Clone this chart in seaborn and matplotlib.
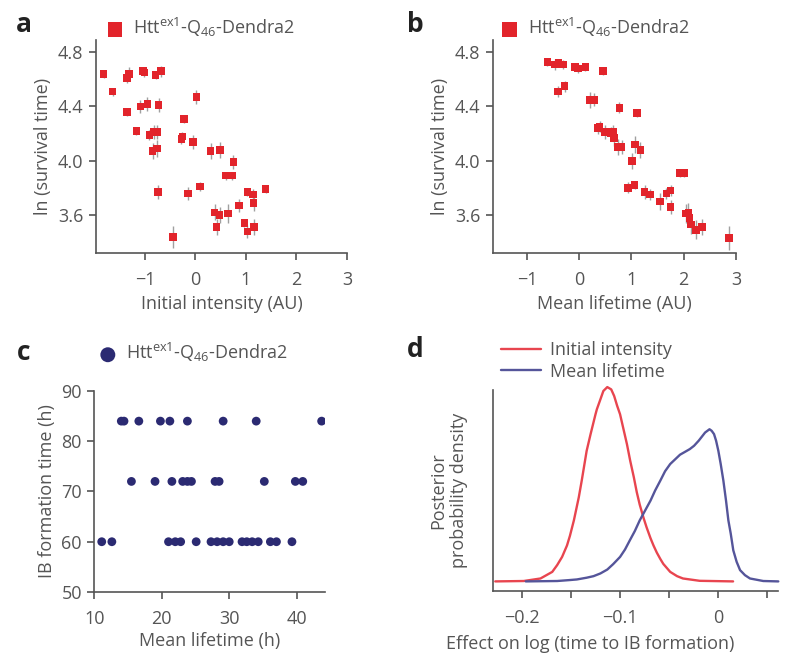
import numpy as np
import pandas as pd
import seaborn as sns
import matplotlib.pyplot as plt

# ---- dados ----
# painel a: intensidade inicial x ln(tempo de sobrevivencia)
a_x = [-1.82, -1.64, -1.36, -1.32, -1.04, -1.01, -0.79, -0.68, -1.35, -1.09, -0.95, -0.73,
       -1.17, -0.91, -0.83, -0.76, -0.85, -0.76, -0.74, -0.44, -0.26, -0.28, -0.23, -0.05,
       0.02, -0.15, 0.09, 0.30, 0.49, 0.75, 0.60, 0.72, 0.38, 0.48, 0.42, 0.65, 0.86, 0.97,
       1.03, 1.03, 1.14, 1.15, 1.16, 1.39]
a_y = [4.64, 4.51, 4.61, 4.64, 4.66, 4.65, 4.63, 4.66, 4.36, 4.40, 4.42, 4.41,
       4.22, 4.19, 4.21, 4.21, 4.07, 4.09, 3.77, 3.44, 4.18, 4.16, 4.31, 4.14,
       4.47, 3.76, 3.81, 4.07, 4.08, 3.99, 3.89, 3.89, 3.62, 3.60, 3.51, 3.61, 3.67, 3.54,
       3.48, 3.77, 3.75, 3.69, 3.51, 3.79]
a_err = [0.03, 0.03, 0.04, 0.05, 0.03, 0.03, 0.03, 0.04, 0.03, 0.05, 0.05, 0.05,
         0.03, 0.04, 0.05, 0.05, 0.06, 0.06, 0.05, 0.08, 0.03, 0.04, 0.03, 0.05,
         0.05, 0.05, 0.03, 0.06, 0.06, 0.05, 0.03, 0.03, 0.06, 0.06, 0.06, 0.07, 0.05, 0.03,
         0.05, 0.03, 0.04, 0.06, 0.06, 0.03]

# painel b: tempo de vida medio x ln(tempo de sobrevivencia)
b_x = [-0.61, -0.46, -0.40, -0.31, -0.08, -0.02, 0.12, 0.45, -0.41, -0.28, 0.20, 0.28,
       0.77, 1.10, 0.35, 0.39, 0.49, 0.60, 0.65, 0.66, 0.74, 0.81, 1.07, 1.17, 1.01,
       0.93, 1.06, 1.25, 1.36, 1.54, 1.67, 1.75, 1.75, 1.93, 2.01, 2.04, 2.09, 2.11,
       2.14, 2.24, 2.35, 2.87]
b_y = [4.73, 4.71, 4.72, 4.71, 4.69, 4.68, 4.69, 4.66, 4.51, 4.55, 4.45, 4.45,
       4.39, 4.35, 4.24, 4.25, 4.21, 4.20, 4.21, 4.17, 4.10, 4.10, 4.12, 4.08, 4.00,
       3.80, 3.82, 3.77, 3.75, 3.70, 3.76, 3.78, 3.66, 3.91, 3.91, 3.61, 3.62, 3.58,
       3.53, 3.49, 3.51, 3.43]
b_err = [0.03, 0.04, 0.03, 0.03, 0.03, 0.03, 0.03, 0.03, 0.04, 0.04, 0.06, 0.05,
         0.04, 0.03, 0.04, 0.04, 0.05, 0.05, 0.05, 0.06, 0.06, 0.05, 0.06, 0.06, 0.06,
         0.04, 0.03, 0.05, 0.04, 0.06, 0.04, 0.04, 0.05, 0.03, 0.03, 0.07, 0.07, 0.06,
         0.07, 0.07, 0.06, 0.09]

# painel c: tempo de vida medio (h) x tempo de formacao de IB (h)
c_lifetime = [14.0, 14.4, 16.6, 19.8, 21.2, 23.8, 29.1, 34.0, 43.7,
              15.5, 19.0, 21.5, 23.1, 23.8, 24.4, 27.9, 28.5, 35.2, 39.8, 40.9,
              11.1, 12.6, 21.0, 22.0, 22.8, 25.1, 27.3, 28.2, 29.1, 30.0, 31.9, 32.6,
              33.4, 34.3, 36.1, 37.0, 39.3]
c_ib = [84] * 9 + [72] * 11 + [60] * 17

# painel d: densidades a posteriori (escala arbitraria)
d_red_x = [-0.227, -0.198, -0.181, -0.169, -0.164, -0.159, -0.154, -0.151, -0.147, -0.142,
           -0.139, -0.134, -0.130, -0.125, -0.1236, -0.120, -0.117, -0.113, -0.109, -0.106,
           -0.103, -0.100, -0.0965, -0.093, -0.0897, -0.086, -0.083, -0.080, -0.076, -0.073,
           -0.069, -0.066, -0.0626, -0.059, -0.056, -0.049, -0.042, -0.036, -0.019, 0.015]
d_red_y = [0.0, 0.002, 0.015, 0.049, 0.084, 0.126, 0.185, 0.235, 0.314, 0.433,
           0.519, 0.672, 0.758, 0.860, 0.886, 0.937, 0.980, 1.0, 0.988, 0.954,
           0.904, 0.860, 0.783, 0.706, 0.621, 0.536, 0.459, 0.395, 0.325, 0.278,
           0.222, 0.185, 0.148, 0.115, 0.090, 0.049, 0.027, 0.015, 0.003, 0.0]
d_blue_x = [-0.196, -0.164, -0.151, -0.144, -0.134, -0.127, -0.120, -0.113, -0.107, -0.100,
            -0.095, -0.090, -0.085, -0.080, -0.0745, -0.069, -0.0643, -0.059, -0.0542, -0.049,
            -0.044, -0.039, -0.0338, -0.029, -0.0247, -0.020, -0.0169, -0.0135, -0.009, -0.0068,
            -0.0044, -0.0023, 0.0, 0.0024, 0.0051, 0.0078, 0.0102, 0.0126, 0.0152, 0.0186,
            0.0221, 0.0271, 0.0322, 0.0457, 0.061]
d_blue_y = [0.0, 0.002, 0.007, 0.010, 0.019, 0.027, 0.041, 0.061, 0.089, 0.126,
            0.164, 0.212, 0.259, 0.314, 0.365, 0.416, 0.468, 0.519, 0.567, 0.604,
            0.628, 0.652, 0.667, 0.681, 0.698, 0.724, 0.744, 0.766, 0.783, 0.775,
            0.758, 0.724, 0.672, 0.604, 0.519, 0.416, 0.314, 0.246, 0.160, 0.101,
            0.058, 0.032, 0.015, 0.002, 0.0]

legenda = "Htt$^{\\mathrm{ex1}}$-Q$_{\\mathrm{46}}$-Dendra2"
vermelho = "#e2242b"
azul = "#2b2a72"
cinza = "#555555"

sns.set_style("ticks")
plt.rcParams["font.family"] = ["Open Sans", "DejaVu Sans"]
plt.rcParams["mathtext.fontset"] = "custom"
plt.rcParams["mathtext.rm"] = "Open Sans"
plt.rcParams["mathtext.it"] = "Open Sans:italic"
plt.rcParams["text.color"] = cinza
plt.rcParams["axes.labelcolor"] = cinza
plt.rcParams["xtick.color"] = cinza
plt.rcParams["ytick.color"] = cinza
plt.rcParams["axes.edgecolor"] = cinza

fig = plt.figure(figsize=(7.86, 6.56), dpi=100)
ax_a = fig.add_axes([0.1221, 0.6143, 0.3193, 0.3247])
ax_b = fig.add_axes([0.6272, 0.6143, 0.3092, 0.3247])
ax_c = fig.add_axes([0.1200, 0.0976, 0.2935, 0.3064])
ax_d = fig.add_axes([0.6276, 0.0995, 0.3626, 0.3060])


def estilo(ax):
    sns.despine(ax=ax)
    ax.spines["left"].set_linewidth(1.2)
    ax.spines["bottom"].set_linewidth(1.2)
    ax.tick_params(labelsize=13, length=5, width=1.2)
    ax.tick_params(axis="x", pad=8)
    ax.tick_params(axis="y", pad=4)


# a
df_a = pd.DataFrame({"x": a_x, "y": a_y, "err": a_err})
ax_a.errorbar(df_a["x"], df_a["y"], yerr=df_a["err"], fmt="none", ecolor="#a0a0a0", elinewidth=1)
sns.scatterplot(ax=ax_a, data=df_a, x="x", y="y", marker="s", s=30, color=vermelho,
                edgecolor="none", label=legenda, zorder=3)
ax_a.set_xlim(-1.97, 3)
ax_a.set_ylim(3.32, 4.89)
ax_a.set_xticks([-1, 0, 1, 2, 3])
ax_a.set_yticks([3.6, 4.0, 4.4, 4.8])
ax_a.set_xlabel("Initial intensity (AU)", fontsize=13)
ax_a.set_ylabel("ln (survival time)", fontsize=13)
estilo(ax_a)
ax_a.legend(loc="center left", bbox_to_anchor=(0.137, 0.958), bbox_transform=fig.transFigure,
            frameon=False, markerscale=1.9, handlelength=0.8, handletextpad=0.6,
            borderpad=0, borderaxespad=0, fontsize=13)

# b
df_b = pd.DataFrame({"x": b_x, "y": b_y, "err": b_err})
ax_b.errorbar(df_b["x"], df_b["y"], yerr=df_b["err"], fmt="none", ecolor="#a0a0a0", elinewidth=1)
sns.scatterplot(ax=ax_b, data=df_b, x="x", y="y", marker="s", s=30, color=vermelho,
                edgecolor="none", label=legenda, zorder=3)
ax_b.set_xlim(-1.65, 3)
ax_b.set_ylim(3.32, 4.89)
ax_b.set_xticks([-1, 0, 1, 2, 3])
ax_b.set_yticks([3.6, 4.0, 4.4, 4.8])
ax_b.set_xlabel("Mean lifetime (AU)", fontsize=13)
ax_b.set_ylabel("ln (survival time)", fontsize=13)
estilo(ax_b)
ax_b.legend(loc="center left", bbox_to_anchor=(0.639, 0.958), bbox_transform=fig.transFigure,
            frameon=False, markerscale=1.9, handlelength=0.8, handletextpad=0.6,
            borderpad=0, borderaxespad=0, fontsize=13)

# c
df_c = pd.DataFrame({"vida": c_lifetime, "ib": c_ib})
sns.scatterplot(ax=ax_c, data=df_c, x="vida", y="ib", s=40, color=azul, edgecolor="none",
                label=legenda)
ax_c.set_xlim(10, 44.2)
ax_c.set_ylim(50, 90)
ax_c.set_xticks([10, 20, 30, 40])
ax_c.set_yticks([50, 60, 70, 80, 90])
ax_c.set_xlabel("Mean lifetime (h)", fontsize=13, labelpad=3)
ax_c.set_ylabel("IB formation time (h)", fontsize=13)
estilo(ax_c)
ax_c.legend(loc="center left", bbox_to_anchor=(0.128, 0.462), bbox_transform=fig.transFigure,
            frameon=False, markerscale=1.7, handlelength=0.8, handletextpad=0.6,
            borderpad=0, borderaxespad=0, fontsize=13)

# d
sns.lineplot(ax=ax_d, x=d_red_x, y=d_red_y, color="#e8454f", lw=1.7, label="Initial intensity",
             clip_on=False)
sns.lineplot(ax=ax_d, x=d_blue_x, y=d_blue_y, color="#55559a", lw=1.7, label="Mean lifetime",
             clip_on=False)
ax_d.set_xlim(-0.229, 0.061)
ax_d.set_ylim(-0.048, 0.985)
ax_d.set_xticks([-0.2, -0.15, -0.1, -0.05, 0, 0.05])
ax_d.set_xticklabels(["\u22120.2", "", "\u22120.1", "", "0", ""])
ax_d.set_yticks([])
estilo(ax_d)
ax_d.set_xlabel("Effect on log (time to IB formation)", fontsize=13)
ax_d.xaxis.set_label_coords(0.34, -0.22)
ax_d.set_ylabel("Posterior\nprobability density", fontsize=13, labelpad=18)
ax_d.legend(loc="center left", bbox_to_anchor=(0.638, 0.45), bbox_transform=fig.transFigure,
            frameon=False, handlelength=2.2, handletextpad=0.5, labelspacing=0.2,
            borderpad=0, borderaxespad=0, fontsize=13)

# letras dos paineis
for letra, x, y in [("a", 0.020, 0.962), ("b", 0.518, 0.962), ("c", 0.022, 0.463), ("d", 0.518, 0.467)]:
    fig.text(x, y, letra, fontsize=19, fontweight="bold", color="#222222", va="center")

plt.savefig("out.png", dpi=100)
